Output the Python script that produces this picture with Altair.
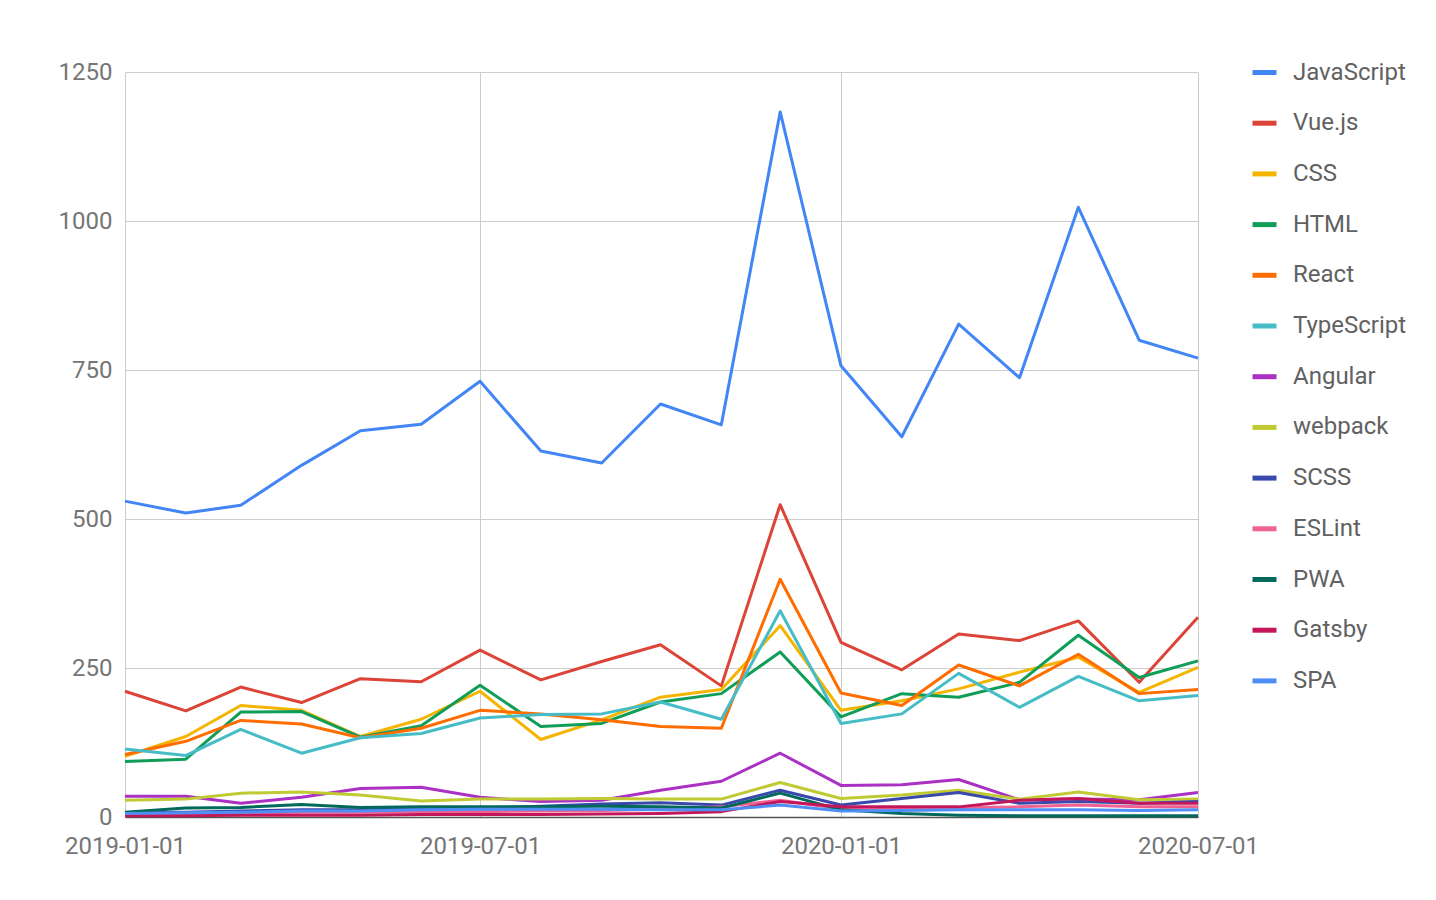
import altair as alt
import pandas as pd

months = ["2019-01-01", "2019-02-01", "2019-03-01", "2019-04-01", "2019-05-01",
          "2019-06-01", "2019-07-01", "2019-08-01", "2019-09-01", "2019-10-01",
          "2019-11-01", "2019-12-01", "2020-01-01", "2020-02-01", "2020-03-01",
          "2020-04-01", "2020-05-01", "2020-06-01", "2020-07-01"]

series_names = ["JavaScript", "Vue.js", "CSS", "HTML", "React", "TypeScript",
                "Angular", "webpack", "SCSS", "ESLint", "PWA", "Gatsby", "SPA"]

javascript = [530, 510, 523, 590, 648, 659, 731, 614, 594, 693, 658, 1183, 757, 638, 827, 737, 1023, 800, 770]
vuejs = [211, 178, 218, 192, 232, 227, 280, 230, 261, 289, 220, 524, 293, 247, 307, 296, 329, 226, 335]
css = [102, 135, 187, 179, 135, 164, 211, 130, 163, 201, 214, 321, 179, 195, 215, 243, 268, 209, 251]
html = [93, 97, 176, 177, 134, 153, 221, 152, 157, 193, 207, 277, 168, 207, 201, 226, 305, 234, 262]
react = [105, 127, 162, 156, 133, 149, 179, 173, 163, 152, 149, 399, 208, 187, 255, 220, 273, 207, 214]
typescript = [114, 103, 147, 107, 133, 140, 166, 172, 173, 193, 164, 346, 157, 173, 241, 184, 236, 195, 204]
angular = [35, 35, 23, 33, 48, 50, 33, 26, 28, 45, 60, 107, 53, 54, 63, 29, 30, 29, 41]
webpack = [28, 30, 40, 42, 37, 27, 30, 30, 31, 30, 30, 58, 31, 37, 45, 30, 42, 29, 30]
scss = [7, 8, 10, 12, 12, 14, 15, 18, 22, 24, 20, 45, 20, 31, 41, 23, 26, 23, 26]
eslint = [5, 6, 7, 8, 8, 9, 9, 10, 11, 13, 17, 28, 14, 15, 16, 17, 20, 17, 17]
pwa = [8, 15, 16, 21, 16, 17, 17, 17, 18, 17, 15, 40, 12, 6, 3, 2, 2, 2, 2]
gatsby = [2, 2, 3, 3, 3, 4, 4, 4, 5, 6, 9, 26, 17, 17, 17, 28, 31, 23, 23]
spa = [6, 7, 8, 10, 10, 12, 13, 13, 13, 12, 12, 20, 10, 11, 12, 12, 12, 11, 12]

colors = ["#4285f4", "#db4437", "#f4b400", "#0f9d58", "#ff6d00", "#46bdc6",
          "#ab30c4", "#c0ca33", "#3949ab", "#f06292", "#00695c", "#c2185b", "#4f8ff5"]

all_values = [javascript, vuejs, css, html, react, typescript, angular,
              webpack, scss, eslint, pwa, gatsby, spa]

rows = []
for name, vals in zip(series_names, all_values):
    for m, v in zip(months, vals):
        rows.append({"month": m, "series": name, "value": v})
df = pd.DataFrame(rows)

font = "Roboto"
label_color = "#757575"
fs = 24

x_ticks = [alt.DateTime(year=2019, month=1, date=1, utc=True),
           alt.DateTime(year=2019, month=7, date=1, utc=True),
           alt.DateTime(year=2020, month=1, date=1, utc=True),
           alt.DateTime(year=2020, month=7, date=1, utc=True)]

chart = alt.Chart(df).mark_line(strokeWidth=3, strokeJoin="round").encode(
    x=alt.X("month:T",
            scale=alt.Scale(type="utc", domain=[x_ticks[0], x_ticks[-1]], nice=False),
            axis=alt.Axis(title=None, values=x_ticks,
                          labelExpr="utcFormat(datum.value, '%Y-%m-%d')",
                          grid=True, gridColor="#cccccc", gridWidth=1,
                          domain=True, domainColor="#555555", domainWidth=1.5,
                          ticks=False, labelFont=font, labelFontSize=fs,
                          labelColor=label_color, labelPadding=17,
                          labelFlush=False, labelOverlap=False, labelBound=False)),
    y=alt.Y("value:Q",
            scale=alt.Scale(domain=[0, 1250], nice=False),
            axis=alt.Axis(title=None, values=[0, 250, 500, 750, 1000, 1250], format="d",
                          grid=True, gridColor="#cccccc", gridWidth=1,
                          domain=False, ticks=False, labelFont=font, labelFontSize=fs,
                          labelColor=label_color, labelPadding=13)),
    color=alt.Color("series:N",
                    scale=alt.Scale(domain=series_names, range=colors),
                    legend=alt.Legend(title=None, orient="none", legendX=1125, legendY=-14,
                                      symbolType="stroke", symbolSize=576,
                                      symbolStrokeWidth=5, labelFont=font,
                                      labelFontSize=fs, labelColor="#616161",
                                      labelOffset=14, rowPadding=23.7, padding=0)),
).properties(
    width=1073,
    height=745,
    autosize=alt.AutoSizeParams(type="none"),
    padding={"left": 117, "top": 64, "right": 230, "bottom": 75},
    background="white",
).configure_view(stroke=None)

chart.save("out.html", embed_options={"renderer": "svg", "actions": False})
